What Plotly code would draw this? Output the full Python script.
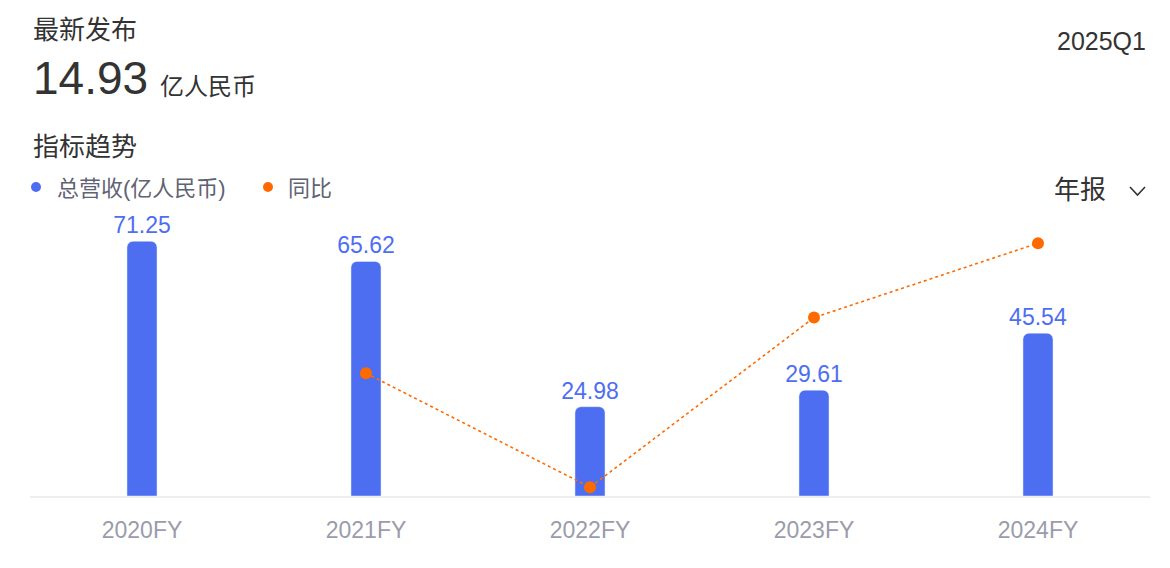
import plotly.graph_objects as go

categories = ["2020FY", "2021FY", "2022FY", "2023FY", "2024FY"]
revenue = [71.25, 65.62, 24.98, 29.61, 45.54]
yoy_categories = ["2021FY", "2022FY", "2023FY", "2024FY"]
yoy = [-7.90, -61.93, 18.53, 53.80]
revenue_labels = ["71.25", "65.62", "24.98", "29.61", "45.54"]

BLUE = "#4e6ef2"
ORANGE = "#ff6a00"
FONT = "Liberation Sans, Noto Sans CJK SC, sans-serif"

# page offset of the figure (body margin)
OX, OY = 8, 8
W, H = 1170, 568
# desired plot area in page pixels: x 30..1150, y 200..496
L = 30 - OX
R = W - (1150 - OX)
T = 200 - OY
B = H - (496 - OY)
PW, PH = W - L - R, H - T - B


def px(xpage):
    return (xpage - OX - L) / PW


def py(ypage):
    return (H - B - (ypage - OY)) / PH


fig = go.Figure()
fig.add_trace(go.Bar(
    x=categories, y=revenue, name="总营收(亿人民币)",
    marker=dict(color=BLUE, cornerradius=6),
    width=0.134,
    text=revenue_labels, textposition="outside", constraintext="none",
    textfont=dict(color=BLUE, size=23, family=FONT),
    cliponaxis=False, hoverinfo="skip",
))
fig.add_trace(go.Scatter(
    x=yoy_categories, y=yoy, name="同比", yaxis="y2",
    mode="lines+markers",
    line=dict(color=ORANGE, width=1.6, dash="dot"),
    marker=dict(color=ORANGE, size=12),
    cliponaxis=False, hoverinfo="skip",
))

anns = [
    dict(text="最新发布", x=px(31), y=py(30), size=26, color="#333333", xanchor="left"),
    dict(text="14.93", x=px(31), y=py(78), size=46, color="#333333", xanchor="left"),
    dict(text="亿人民币", x=px(158), y=py(86), size=24, color="#333333", xanchor="left"),
    dict(text="指标趋势", x=px(31), y=py(147), size=26, color="#333333", xanchor="left"),
    dict(text="总营收(亿人民币)", x=px(55), y=py(188), size=22, color="#5f6373", xanchor="left"),
    dict(text="同比", x=px(286), y=py(188), size=22, color="#5f6373", xanchor="left"),
    dict(text="2025Q1", x=px(1148), y=py(41), size=25, color="#333333", xanchor="right"),
    dict(text="年报", x=px(1052), y=py(190), size=26, color="#333333", xanchor="left"),
]
for a in anns:
    fig.add_annotation(
        text=a["text"], x=a["x"], y=a["y"], xref="paper", yref="paper",
        xanchor=a["xanchor"], yanchor="middle", showarrow=False,
        font=dict(size=a["size"], color=a["color"], family=FONT),
    )

# legend dots
for cx, col in [(36, BLUE), (268, ORANGE)]:
    fig.add_shape(
        type="circle", xref="paper", yref="paper",
        xsizemode="pixel", ysizemode="pixel",
        xanchor=px(cx), yanchor=py(187),
        x0=-5, x1=5, y0=-5, y1=5,
        fillcolor=col, line=dict(width=0),
    )

# dropdown chevron
fig.add_shape(
    type="path", xref="paper", yref="paper",
    path=f"M {px(1130)} {py(187)} L {px(1137.5)} {py(195)} L {px(1145)} {py(187)}",
    line=dict(color="#333333", width=1.6),
)

fig.update_layout(
    width=W, height=H,
    margin=dict(l=L, r=R, t=T, b=B),
    paper_bgcolor="white", plot_bgcolor="white",
    showlegend=False,
    font=dict(family=FONT),
    xaxis=dict(
        showgrid=False, showline=True, linecolor="#eeeeee", linewidth=2,
        ticks="", tickfont=dict(size=23, color="#9a9cab", family=FONT),
        ticklabelstandoff=12, fixedrange=True,
    ),
    yaxis=dict(range=[0, 82.8], visible=False, fixedrange=True),
    yaxis2=dict(range=[-66.1, 74.3], overlaying="y", visible=False, fixedrange=True),
)

fig.write_html("out.html")
